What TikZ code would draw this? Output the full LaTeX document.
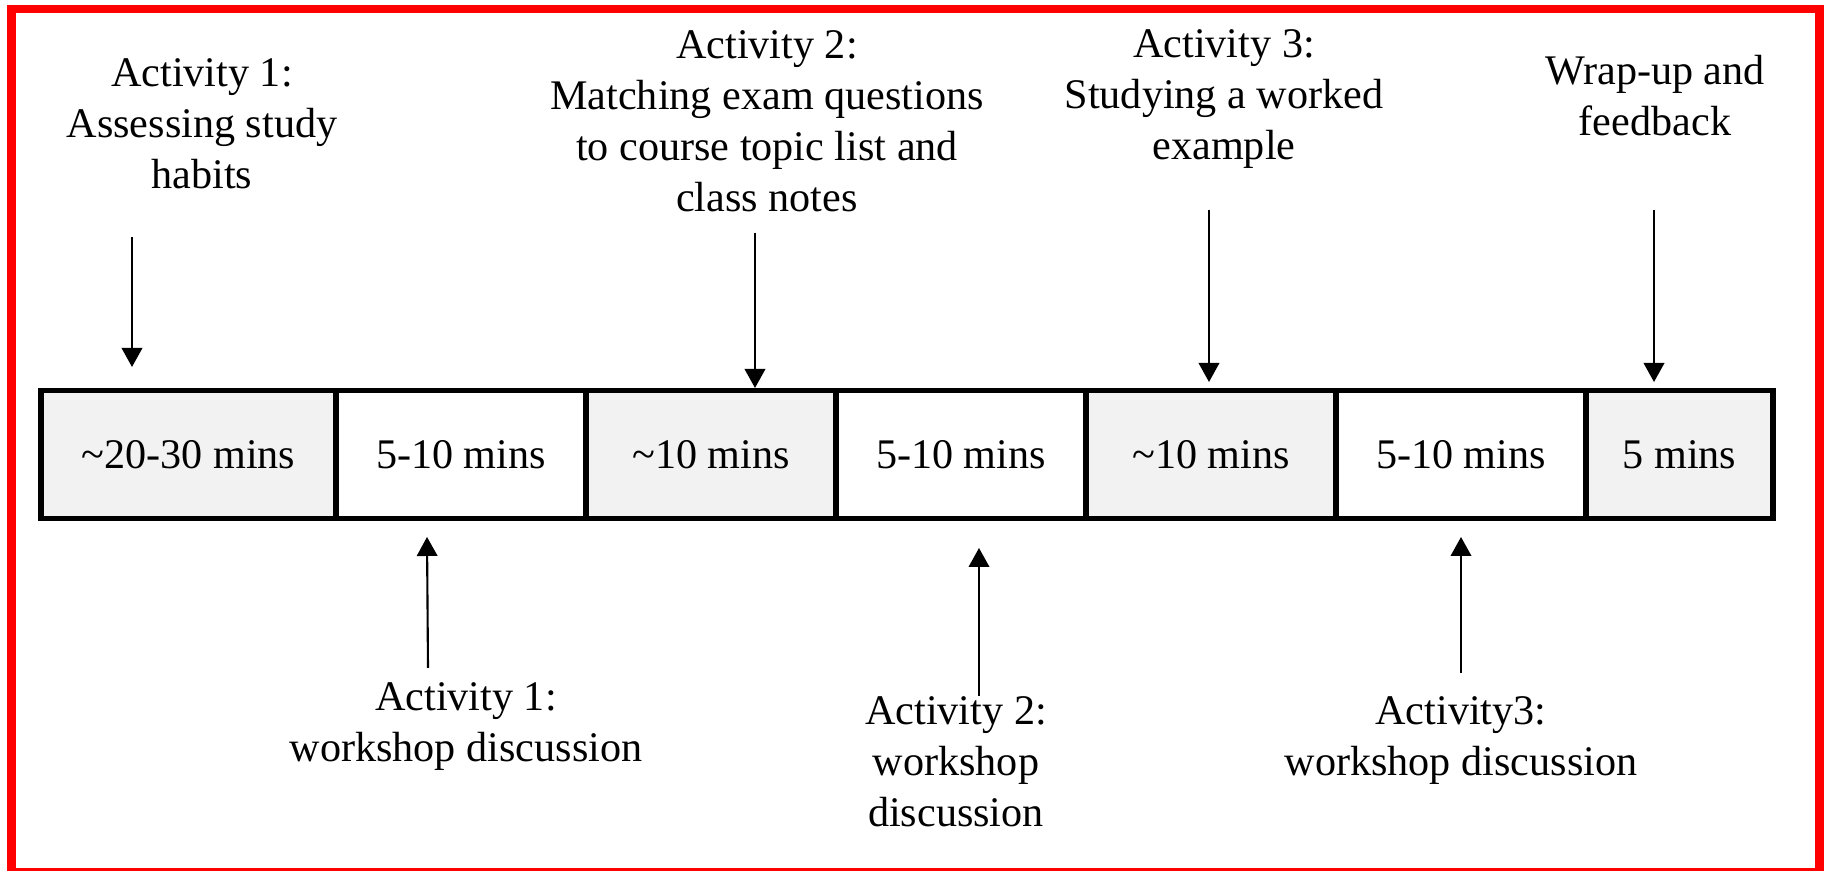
\documentclass[tikz,border=0pt]{standalone}
\usepackage{fontspec}
\setmainfont{Liberation Serif}
\usepackage{xcolor}
\usetikzlibrary{arrows.meta}
\definecolor{cellgray}{HTML}{F2F2F2}
\definecolor{framered}{HTML}{FF0000}

\begin{document}
\begin{tikzpicture}[
    cell/.style={rectangle, draw, line width=0.11cm, minimum height=2.56cm, inner sep=0pt, outer sep=0pt, font=\fontsize{24}{29}\selectfont},
    note/.style={align=center, font=\fontsize{24}{29}\selectfont},
    arrow/.style={-{Triangle[length=0.38cm, width=0.41cm]}, line width=1.2pt}
]
    \useasboundingbox (0,0) rectangle (36.56,17.42);

    % Frame
    \draw[framered, line width=0.168cm] (0.23,-0.02) rectangle (36.39,17.24);

    % Time blocks
    \node[cell, fill=cellgray, minimum width=5.9cm] (act1box) at (3.77,8.33) {\textasciitilde 20-30 mins};
    \node[cell, fill=white, minimum width=5cm] (disc1box) at (9.22,8.33) {5-10 mins};
    \node[cell, fill=cellgray, minimum width=5cm] (act2box) at (14.22,8.33) {\textasciitilde 10 mins};
    \node[cell, fill=white, minimum width=5cm] (disc2box) at (19.22,8.33) {5-10 mins};
    \node[cell, fill=cellgray, minimum width=5cm] (act3box) at (24.22,8.33) {\textasciitilde 10 mins};
    \node[cell, fill=white, minimum width=5cm] (disc3box) at (29.22,8.33) {5-10 mins};
    \node[cell, fill=cellgray, minimum width=3.74cm] (wrapbox) at (33.59,8.33) {5 mins};

    % Activities above
    \node[note] (act1) at (4.04,14.94) {Activity 1:\\Assessing study\\habits};
    \node[note] (act2) at (15.34,15.0) {Activity 2:\\Matching exam questions\\to course topic list and\\class notes};
    \node[note] (act3) at (24.48,15.44) {Activity 3:\\Studying a worked\\example};
    \node[note] (wrap) at (33.1,15.5) {Wrap-up and\\feedback};

    % Discussions below
    \node[note] (disc1) at (9.32,2.88) {Activity 1:\\workshop discussion};
    \node[note] (disc2) at (19.12,2.18) {Activity 2:\\workshop\\discussion};
    \node[note] (disc3) at (29.22,2.61) {Activity3:\\workshop discussion};

    % Arrow ends
    \coordinate (a1from) at (2.64,12.68);
    \coordinate (a1to) at (2.64,10.08);
    \coordinate (a2from) at (15.1,12.76);
    \coordinate (a2to) at (15.1,9.66);
    \coordinate (a3from) at (24.18,13.22);
    \coordinate (a3to) at (24.18,9.78);
    \coordinate (wfrom) at (33.08,13.22);
    \coordinate (wto) at (33.08,9.78);
    \coordinate (d1from) at (8.56,4.06);
    \coordinate (d1to) at (8.54,6.68);
    \coordinate (d2from) at (19.58,3.5);
    \coordinate (d2to) at (19.58,6.46);
    \coordinate (d3from) at (29.22,3.96);
    \coordinate (d3to) at (29.22,6.68);

    % Arrows
    \draw[arrow] (a1from) -- (a1to);
    \draw[arrow] (a2from) -- (a2to);
    \draw[arrow] (a3from) -- (a3to);
    \draw[arrow] (wfrom) -- (wto);
    \draw[arrow] (d1from) -- (d1to);
    \draw[arrow] (d2from) -- (d2to);
    \draw[arrow] (d3from) -- (d3to);

\end{tikzpicture}
\end{document}
